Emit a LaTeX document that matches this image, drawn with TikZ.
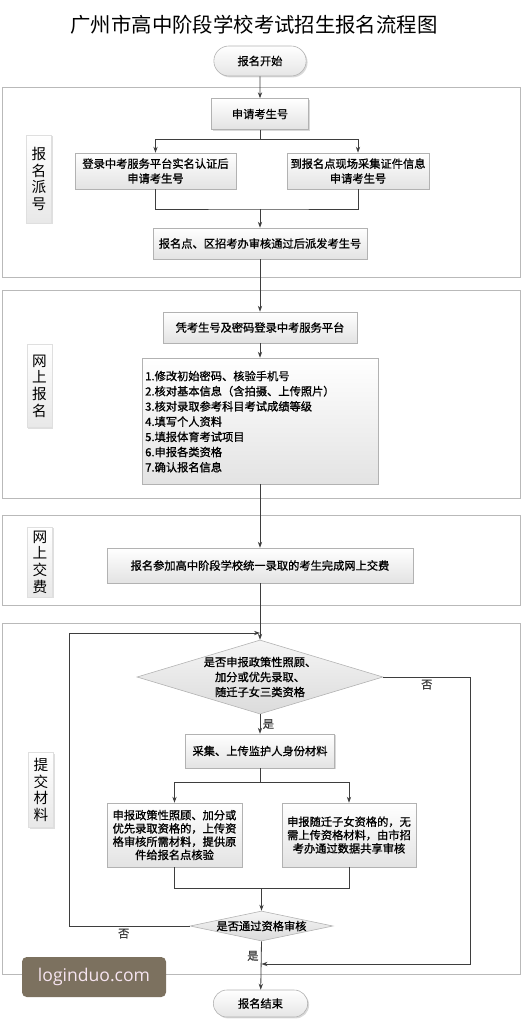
\documentclass[tikz,border=0pt]{standalone}
\usepackage{fontspec}
\newfontfamily\cjk{Noto Sans CJK SC}
\newfontfamily\cjkb{Noto Sans CJK SC}[FakeBold=1.0]
\newfontfamily\wmfont{Open Sans}
\usetikzlibrary{arrows.meta,shapes.geometric,shapes.misc,shadows}

\definecolor{linegray}{RGB}{62,62,62}
\definecolor{wmbrown}{RGB}{124,113,95}
\definecolor{wmtext}{RGB}{246,228,240}
\newcommand{\px}{0.03cm}
\newcommand{\boxfont}{\cjkb\fontsize{9.6pt}{12.6pt}\selectfont}

\begin{document}
\begin{tikzpicture}[x=0.03cm, y=-0.03cm,
    % stage frames and their side labels
    stage/.style={draw=gray!55, line width=0.6pt},
    stagelabel/.style={draw=gray!25, top color=white, bottom color=gray!18,
      drop shadow={opacity=0.25, shadow xshift=1pt, shadow yshift=-1pt},
      minimum width=25*\px, inner sep=1pt, align=center,
      font=\cjk\fontsize{12.5pt}{14.2pt}\selectfont},
    % flow chart shapes
    box/.style={draw=gray!60, line width=0.5pt, top color=white, bottom color=gray!22,
      drop shadow={opacity=0.3, shadow xshift=1.2pt, shadow yshift=-1.2pt},
      align=center, inner sep=2pt, font=\boxfont},
    term/.style={rounded rectangle, draw=gray!60, line width=0.5pt, top color=white,
      bottom color=gray!20, drop shadow={opacity=0.3, shadow xshift=1.2pt, shadow yshift=-1.2pt},
      inner sep=2pt, font=\boxfont},
    decision/.style={diamond, draw=gray!60, line width=0.5pt, top color=gray!8,
      bottom color=gray!28, inner sep=0pt},
    dtext/.style={align=center, inner sep=0pt, font=\cjkb\fontsize{9.6pt}{12.8pt}\selectfont},
    item/.style={anchor=west, inner sep=0pt, font=\boxfont},
    titletext/.style={font=\cjk\fontsize{17.4pt}{20pt}\selectfont},
    answer/.style={inner sep=2pt, font=\boxfont},
    % connectors
    link/.style={linegray, line width=0.7pt},
    flow/.style={link, -{Stealth[length=1.8mm, width=1.3mm]}},
    watermark/.style={fill=wmbrown, rounded corners=4pt, text=wmtext,
      minimum width=144*\px, minimum height=40*\px, font=\wmfont\fontsize{15pt}{18pt}\selectfont}
]
\useasboundingbox (0,0) rectangle (522,1019);

% Title and start
\node[titletext] (title) at (254,25) {广州市高中阶段学校考试招生报名流程图};
\node[term, minimum width=97*\px, minimum height=30*\px] (start) at (260,61) {报名开始};

% Stage 1: number assignment
\draw[stage] (2,87) rectangle (520,277);
\node[stagelabel, minimum height=88*\px] (lab1) at (39,179) {报\\名\\派\\号};
\node[box, minimum width=97*\px, minimum height=31*\px] (apply) at (260,114) {申请考生号};
\node[box, minimum width=161*\px, minimum height=36*\px] (online) at (155.5,171) {登录中考服务平台实名认证后\\申请考生号};
\node[box, minimum width=142*\px, minimum height=36*\px] (onsite) at (358,171) {到报名点现场采集证件信息\\申请考生号};
\node[box, minimum width=214*\px, minimum height=31*\px] (assign) at (260,243.5) {报名点、区招考办审核通过后派发考生号};

\draw[flow] (start) -- (apply);
\draw[flow] (apply.south) -- ++(0,10) -| (online.north);
\draw[flow] (apply.south) -- ++(0,10) -| (onsite.north);
\coordinate (join1) at (260,209);
\draw[link] (online.south) |- (join1) -| (onsite.south);
\draw[flow] (join1) -- (assign.north);

% Stage 2: online registration
\draw[stage] (2,290) rectangle (520,498);
\node[stagelabel, minimum height=83*\px] (lab2) at (39.5,386) {网\\上\\报\\名};
\node[box, minimum width=194*\px, minimum height=31*\px] (login) at (260,327.5) {凭考生号及密码登录中考服务平台};
\node[box, minimum width=236*\px, minimum height=126*\px] (tasks) at (260,421) {};
\foreach \t [count=\i] in {修改初始密码、核验手机号, 核对基本信息（含拍摄、上传照片）,
    核对录取参考科目考试成绩等级, 填写个人资料, 填报体育考试项目, 申报各类资格, 确认报名信息}
  \node[item] (task\i) at (145,{376+(\i-1)*15.2}) {\i.\t};

\draw[flow] (assign) -- (login);
\draw[flow] (login) -- (tasks);

% Stage 3: online payment
\draw[stage] (2,515) rectangle (520,605);
\node[stagelabel, minimum height=70*\px] (lab3) at (40,562) {网\\上\\交\\费};
\node[box, minimum width=306*\px, minimum height=35*\px] (pay) at (260,565.5) {报名参加高中阶段学校统一录取的考生完成网上交费};
\draw[flow] (tasks) -- (pay);

% Stage 4: materials
\draw[stage] (2,623) rectangle (520,974);
\node[stagelabel, minimum height=75*\px] (lab4) at (41,790) {提\\交\\材\\料};
\node[decision, minimum width=246*\px, minimum height=74*\px] (ask) at (260,677) {};
\node[dtext] (asktext) at (ask) {是否申报政策性照顾、\\加分或优先录取、\\随迁子女三类资格};
\coordinate (back) at (260,633);
\draw[flow] (pay) -- (ask);

\node[box, minimum width=149*\px, minimum height=34*\px] (guardian) at (260,751) {采集、上传监护人身份材料};
\draw[flow] (ask) -- node[answer, right] (yes1) {是} (guardian);

\node[box, minimum width=135*\px, minimum height=64*\px, font=\cjkb\fontsize{9.6pt}{11.3pt}\selectfont] (policy) at (174.5,835)
  {申报政策性照顾、加分或\\优先录取资格的，上传资\\格审核所需材料，提供原\\件给报名点核验};
\node[box, minimum width=134*\px, minimum height=64*\px, font=\cjkb\fontsize{9.6pt}{11.4pt}\selectfont] (migrant) at (349,835)
  {申报随迁子女资格的，无\\需上传资格材料，由市招\\考办通过数据共享审核};
\draw[flow] (guardian.south) -- ++(0,14) -| (policy.north);
\draw[flow] (guardian.south) -- ++(0,14) -| (migrant.north);

\node[decision, minimum width=143*\px, minimum height=30*\px] (check) at (261.5,926) {};
\node[dtext] (checktext) at (check) {是否通过资格审核};
\coordinate (join2) at (261.5,888);
\draw[link] (policy.south) |- (join2) -| (migrant.south);
\draw[flow] (join2) -- (check.north);

% loops back and skip
\draw[flow] (check.west) -- node[answer, below, pos=0.55] (no2) {否} ++(-120,0) |- (back);
\coordinate (merge3) at (261.5,964);
\draw[flow] (ask.east) -- node[answer, below] (no1) {否} ++(87,0) |- (merge3);

% end
\node[term, minimum width=99*\px, minimum height=27*\px] (finish) at (260.5,1003.5) {报名结束};
\draw[flow] (check.south) -- node[answer, left, pos=0.3] (yes2) {是} (finish);

% watermark
\node[watermark] (wm) at (94,977) {loginduo.com};

\end{tikzpicture}
\end{document}
